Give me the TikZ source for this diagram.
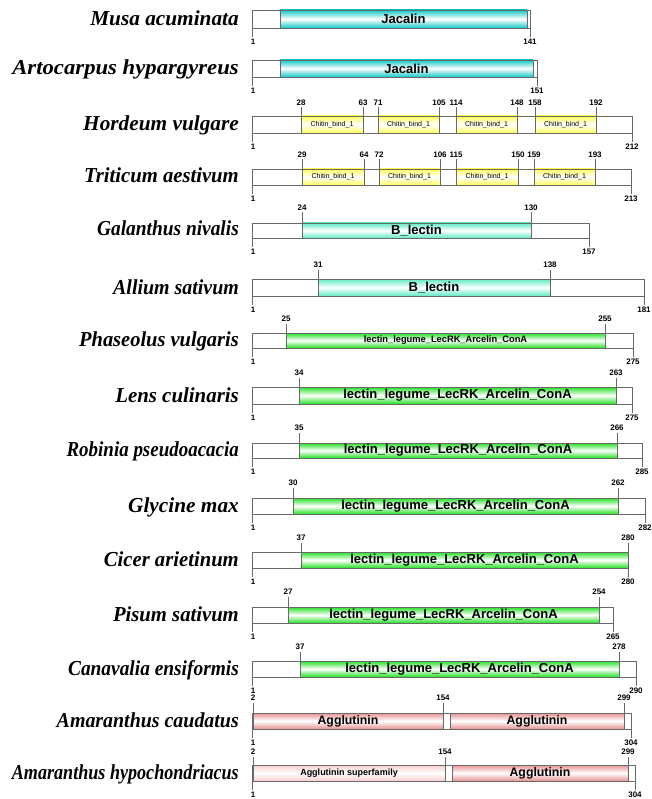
\documentclass[tikz,border=0pt]{standalone}
\usepackage{fontspec}
\setmainfont{Liberation Serif}
\newfontfamily\arialf{Liberation Sans}

\definecolor{jaccol}{RGB}{20,200,200}
\definecolor{bleccol}{RGB}{95,235,195}
\definecolor{legcol}{RGB}{35,225,35}
\definecolor{chitcol}{RGB}{255,255,90}
\definecolor{aggcol}{RGB}{232,145,145}
\definecolor{supcol}{RGB}{248,205,205}
\definecolor{edgecol}{RGB}{105,105,105}

\tikzset{
  seqbox/.style={draw=edgecol, fill=white, line width=0.7pt},
  tickline/.style={draw=edgecol, line width=0.7pt},
  dombox/.style={draw=edgecol, line width=0.7pt, top color=#1, bottom color=#1, middle color=white},
  species/.style={anchor=base east, inner sep=0pt, font=\fontsize{21.3}{24}\selectfont\bfseries\itshape},
  num/.style={inner sep=0pt, font=\arialf\bfseries\fontsize{8}{9}\selectfont},
  domlab/.style={inner sep=0pt, font=\arialf\bfseries\fontsize{13}{14}\selectfont},
  smalllab/.style={inner sep=0pt, font=\arialf\bfseries\fontsize{9.3}{10}\selectfont},
  chitlab/.style={inner sep=0pt, font=\arialf\fontsize{7}{8}\selectfont},
  agglab/.style={inner sep=0pt, font=\arialf\bfseries\fontsize{12.3}{13}\selectfont},
  suplab/.style={inner sep=0pt, font=\arialf\bfseries\fontsize{9}{10}\selectfont},
}

% sequence bar: name, top, bottom, right end, length, species, horizontal text scale
\newcommand\prot[7]{%
  \draw[seqbox] (252,#2) rectangle (#4,#3);
  \draw[tickline] (252,#3) -- (252,#3+9) (#4,#3) -- (#4,#3+9);
  \node[num] (#1s) at (253,#3+14) {1};
  \node[num] (#1e) at (#4,#3+14) {#5};
  \node[species] (#1) at (239,#3-2) {\scalebox{#7}[1]{#6}};
}
% domain: name, top, bottom, x1, x2, colour, label style, label
\newcommand\dom[8]{%
  \shade[dombox=#6] (#4,#2) rectangle (#5,#3);
  \node[#7] (#1) at ({(#4+#5)/2},{(#2+#3)/2}) {#8};
}
% residue position above the bar: name, x, label y, bar top, text
\newcommand\pos[5]{%
  \node[num] (#1) at (#2,#3) {#5};
  \draw[tickline] (#2,#3+4.5) -- (#2,#4);
}

\begin{document}
\begin{tikzpicture}[x=1pt,y=-1pt]
\useasboundingbox (0,0) rectangle (651,799);

% Musa acuminata
\prot{musa}{10}{28}{530}{141}{Musa acuminata}{1}
\dom{musaD}{10}{28}{280}{527}{jaccol}{domlab}{Jacalin}

% Artocarpus hypargyreus
\prot{arto}{60}{77}{537}{151}{Artocarpus hypargyreus}{1.066}
\dom{artoD}{60}{77}{280}{533}{jaccol}{domlab}{Jacalin}

% Hordeum vulgare
\prot{hord}{116}{133}{632}{212}{Hordeum vulgare}{1}
\dom{hordA}{116}{133}{301}{363}{chitcol}{chitlab}{Chitin\_bind\_1}
\dom{hordB}{116}{133}{378}{439}{chitcol}{chitlab}{Chitin\_bind\_1}
\dom{hordC}{116}{133}{456}{517}{chitcol}{chitlab}{Chitin\_bind\_1}
\dom{hordD}{116}{133}{535}{596}{chitcol}{chitlab}{Chitin\_bind\_1}
\pos{hp1}{301}{103}{116}{28}
\pos{hp2}{363}{103}{116}{63}
\pos{hp3}{378}{103}{116}{71}
\pos{hp4}{439}{103}{116}{105}
\pos{hp5}{456}{103}{116}{114}
\pos{hp6}{517}{103}{116}{148}
\pos{hp7}{535}{103}{116}{158}
\pos{hp8}{596}{103}{116}{192}

% Triticum aestivum
\prot{trit}{169}{185}{631}{213}{Triticum aestivum}{0.97}
\dom{tritA}{169}{185}{302}{364}{chitcol}{chitlab}{Chitin\_bind\_1}
\dom{tritB}{169}{185}{379}{440}{chitcol}{chitlab}{Chitin\_bind\_1}
\dom{tritC}{169}{185}{456}{518}{chitcol}{chitlab}{Chitin\_bind\_1}
\dom{tritD}{169}{185}{534}{595}{chitcol}{chitlab}{Chitin\_bind\_1}
\pos{tp1}{302}{155}{169}{29}
\pos{tp2}{364}{155}{169}{64}
\pos{tp3}{379}{155}{169}{72}
\pos{tp4}{440}{155}{169}{106}
\pos{tp5}{456}{155}{169}{115}
\pos{tp6}{518}{155}{169}{150}
\pos{tp7}{534}{155}{169}{159}
\pos{tp8}{595}{155}{169}{193}

% Galanthus nivalis
\prot{gala}{223}{238}{589}{157}{Galanthus nivalis}{0.91}
\dom{galaD}{223}{238}{302}{531}{bleccol}{domlab}{B\_lectin}
\pos{gp1}{302}{208}{223}{24}
\pos{gp2}{531}{208}{223}{130}

% Allium sativum
\prot{alli}{279}{296}{644}{181}{Allium sativum}{0.935}
\dom{alliD}{279}{296}{318}{550}{bleccol}{domlab}{B\_lectin}
\pos{ap1}{318}{265}{279}{31}
\pos{ap2}{550}{265}{279}{138}

% Phaseolus vulgaris
\prot{phas}{333}{348}{633}{275}{Phaseolus vulgaris}{0.96}
\dom{phasD}{333}{348}{286}{605}{legcol}{smalllab}{lectin\_legume\_LecRK\_Arcelin\_ConA}
\pos{pp1}{286}{319}{333}{25}
\pos{pp2}{605}{319}{333}{255}

% Lens culinaris
\prot{lens}{387}{404}{632}{275}{Lens culinaris}{0.98}
\dom{lensD}{387}{404}{299}{616}{legcol}{domlab}{lectin\_legume\_LecRK\_Arcelin\_ConA}
\pos{lp1}{299}{373}{387}{34}
\pos{lp2}{616}{373}{387}{263}

% Robinia pseudoacacia
\prot{robi}{443}{458}{642}{285}{Robinia pseudoacacia}{0.89}
\dom{robiD}{443}{458}{299}{617}{legcol}{domlab}{lectin\_legume\_LecRK\_Arcelin\_ConA}
\pos{rp1}{299}{428}{443}{35}
\pos{rp2}{617}{428}{443}{266}

% Glycine max
\prot{glyc}{498}{514}{645}{282}{Glycine max}{1}
\dom{glycD}{498}{514}{293}{618}{legcol}{domlab}{lectin\_legume\_LecRK\_Arcelin\_ConA}
\pos{yp1}{293}{483}{498}{30}
\pos{yp2}{618}{483}{498}{262}

% Cicer arietinum
\prot{cice}{552}{568}{628}{280}{Cicer arietinum}{0.97}
\dom{ciceD}{552}{568}{301}{628}{legcol}{domlab}{lectin\_legume\_LecRK\_Arcelin\_ConA}
\pos{cp1}{301}{538}{552}{37}
\pos{cp2}{628}{538}{552}{280}

% Pisum sativum
\prot{pisu}{607}{623}{613}{265}{Pisum sativum}{0.97}
\dom{pisuD}{607}{623}{288}{599}{legcol}{domlab}{lectin\_legume\_LecRK\_Arcelin\_ConA}
\pos{sp1}{288}{592}{607}{27}
\pos{sp2}{599}{592}{607}{254}

% Canavalia ensiformis
\prot{cana}{661}{677}{636}{290}{Canavalia ensiformis}{0.91}
\dom{canaD}{661}{677}{300}{619}{legcol}{domlab}{lectin\_legume\_LecRK\_Arcelin\_ConA}
\pos{np1}{300}{647}{661}{37}
\pos{np2}{619}{647}{661}{278}

% Amaranthus caudatus
\prot{amca}{713}{729}{631}{304}{Amaranthus caudatus}{0.935}
\dom{amcaA}{713}{729}{253}{443}{aggcol}{agglab}{Agglutinin}
\dom{amcaB}{713}{729}{450}{624}{aggcol}{agglab}{Agglutinin}
\pos{mp1}{253}{698}{713}{2}
\pos{mp2}{443}{698}{713}{154}
\pos{mp3}{624}{698}{713}{299}

% Amaranthus hypochondriacus
\prot{amhy}{765}{781}{635}{304}{Amaranthus hypochondriacus}{0.85}
\dom{amhyA}{765}{781}{253}{445}{supcol}{suplab}{Agglutinin superfamily}
\dom{amhyB}{765}{781}{452}{628}{aggcol}{agglab}{Agglutinin}
\pos{hq1}{253}{752}{765}{2}
\pos{hq2}{445}{752}{765}{154}
\pos{hq3}{628}{752}{765}{299}

\end{tikzpicture}
\end{document}
